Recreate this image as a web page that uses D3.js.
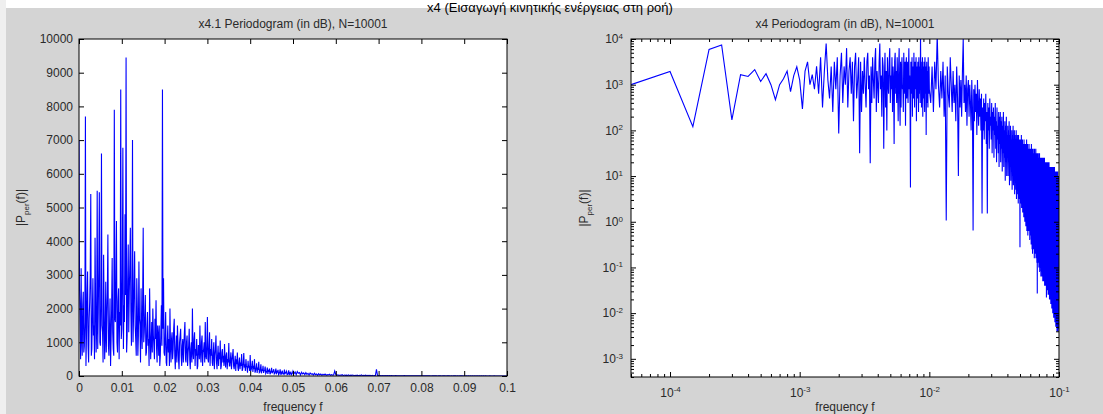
<!DOCTYPE html>
<html>
<head>
<meta charset="utf-8">
<script src="https://cdn.jsdelivr.net/npm/d3@7"></script>
<style>
  body { margin: 0; background: #fff; }
  svg { display: block; font-family: "Liberation Sans", Arial, sans-serif; }
</style>
</head>
<body>
<div id="chart"></div>
<script>
// ---- data ----
const pageTitle = 'x4 (Εισαγωγή κινητικής ενέργειας στη ροή)';
const leftTitle = 'x4.1 Periodogram (in dB), N=10001';
const rightTitle = 'x4 Periodogram (in dB), N=10001';
const xLabelText = 'frequency f';

// left panel: |P| on a linear scale
// 0 .. 0.05 sampled every leftLowStep
const leftLowStep = 0.000125;
const leftLowPower = [
  7000, 2600, 1800, 500, 3200, 1100, 600, 2100, 2500, 700, 900, 1600, 7700, 300, 1200, 2400, 3100, 900, 400, 1700,
  2200, 3000, 5400, 600, 800, 1900, 2900, 1200, 1500, 500, 4100, 2200, 700, 1400, 5500, 800, 1900, 3300, 5450, 1000,
  900, 2100, 6600, 1500, 1300, 400, 3600, 1800, 500, 1200, 2800, 700, 1700, 2500, 4200, 900, 600, 1400, 2300, 300,
  1100, 2000, 3500, 1300, 800, 600, 7900, 1700, 1600, 2900, 4600, 1000, 700, 2200, 2600, 500, 1900, 1500, 8500, 1100,
  1400, 3000, 6770, 800, 2100, 1600, 4800, 2400, 9450, 700, 1200, 2800, 3900, 1300, 2500, 3300, 4400, 1900, 900, 2200,
  7000, 1000, 1800, 2700, 3700, 1500, 1100, 600, 2900, 2000, 600, 1200, 3400, 1700, 1500, 400, 2600, 1400, 800, 2300,
  4400, 1000, 1300, 1800, 2400, 600, 700, 1400, 1900, 900, 1100, 300, 2600, 1300, 500, 1000, 1600, 700, 2000, 1200,
  900, 500, 1700, 1100, 2250, 800, 400, 1500, 1200, 600, 1500, 300, 600, 1300, 2100, 900, 8500, 1400, 2900, 700,
  600, 1200, 1900, 400, 300, 1000, 1500, 700, 1100, 300, 2000, 900, 400, 1100, 1300, 500, 800, 1400, 1700, 600,
  200, 800, 1200, 400, 1500, 1000, 500, 200, 1000, 1200, 1400, 600, 300, 900, 1100, 400, 900, 1300, 1600, 500,
  400, 1000, 1200, 300, 700, 900, 1400, 500, 200, 800, 1000, 400, 2000, 700, 500, 1100, 1300, 300, 800, 600,
  1100, 200, 300, 900, 900, 500, 1500, 700, 400, 1000, 1200, 300, 700, 800, 1000, 400, 1600, 600, 500, 900,
  1750, 500, 400, 900, 1300, 300, 800, 600, 1100, 400, 300, 700, 1000, 200, 600, 800, 1200, 400, 200, 600,
  900, 300, 700, 500, 1050, 200, 300, 700, 800, 400, 600, 300, 950, 500, 250, 600, 700, 200, 500, 400,
  980, 300, 300, 500, 700, 200, 450, 600, 800, 300, 200, 400, 600, 150, 500, 350, 700, 250, 150, 400,
  550, 200, 400, 300, 650, 150, 200, 400, 680, 250, 350, 150, 500, 300, 250, 100, 450, 250, 300, 150,
  620, 150, 200, 300, 450, 120, 300, 200, 500, 100, 150, 250, 380, 90, 250, 180, 420, 100, 120, 200,
  350, 80, 200, 150, 300, 90, 150, 180, 280, 70, 100, 150, 250, 60, 180, 120, 220, 50, 90, 140,
  240, 80, 120, 150, 200, 60, 80, 130, 220, 50, 150, 100, 180, 40, 60, 120, 200, 70, 100, 40,
  160, 90, 70, 50, 190, 60, 110, 100, 140, 40, 50, 80, 170, 30, 90, 70, 130, 40, 60, 90
];
// 0.05 .. 0.1 sampled every leftTailStep
const leftTailStart = 0.05;
const leftTailStep = 0.00025;
const leftTailPower = [
  150, 70, 120, 40, 130, 80, 100, 30, 110, 60, 90, 40, 100, 50, 80, 30, 90, 50, 70, 30,
  80, 40, 60, 20, 70, 30, 60, 20, 50, 30, 60, 20, 40, 30, 50, 20, 40, 25, 30, 150,
  40, 20, 35, 15, 30, 20, 40, 10, 30, 20, 25, 15, 30, 10, 25, 20, 30, 10, 20, 15,
  25, 10, 20, 15, 30, 10, 20, 12, 25, 8, 20, 15, 20, 10, 18, 8, 15, 10, 200, 12,
  15, 8, 12, 6, 14, 9, 10, 5, 12, 7, 10, 6, 11, 5, 9, 7, 10, 4, 8, 6,
  9, 5, 8, 4, 10, 6, 7, 3, 8, 5, 7, 4, 9, 5, 6, 3, 7, 4, 6, 3,
  7, 4, 6, 3, 8, 4, 5, 3, 6, 2, 5, 4, 6, 3, 5, 2, 6, 3, 4, 2,
  5, 3, 4, 2, 6, 3, 4, 2, 5, 2, 4, 3, 5, 2, 4, 2, 4, 3, 3, 2,
  4, 2, 3, 2, 5, 2, 3, 1, 4, 2, 3, 2, 4, 1, 3, 2, 3, 1, 3, 2,
  3, 1, 2, 1, 3, 2, 2, 1, 3, 1, 2, 1, 2, 1, 2, 1, 2, 1, 2, 1,
  1
];
const leftXTicks = [0, 0.01, 0.02, 0.03, 0.04, 0.05, 0.06, 0.07, 0.08, 0.09, 0.1];
const leftYTicks = [0, 1000, 2000, 3000, 4000, 5000, 6000, 7000, 8000, 9000, 10000];

// right panel: log10 of |P|, low band every 5e-5, high band every 2.5e-4 from 0.01
const rightLowStep = 5e-5;
const rightLowLog = [
  3.0, 3.29, 2.08, 3.77, 3.87, 2.23, 3.22, 3.18, 3.33, 3.07, 3.24, 3.0, 2.67, 3.0, 3.13, 3.3, 2.85, 3.2, 3.39, 3.1,
  2.47, 3.3, 3.5, 3.0, 3.22, 2.9, 3.4, 2.8, 3.6, 2.5, 3.3, 3.9, 3.1, 2.7, 3.4, 2.4, 3.5, 2.9, 3.6, 1.93,
  3.2, 3.7, 2.6, 3.4, 3.0, 3.8, 2.5, 3.3, 3.6, 2.8, 3.5, 2.2, 3.4, 3.7, 2.7, 3.1, 3.6, 1.5, 3.5, 2.4,
  3.3, 2.8, 3.6, 3.0, 2.5, 3.5, 3.7, 2.9, 3.2, 1.28, 3.4, 2.6, 3.6, 3.1, 2.7, 3.5, 3.8, 2.4, 3.3, 3.0,
  2.6, 3.5, 3.9, 2.9, 3.2, 2.3, 3.6, 3.4, 1.6, 3.1, 3.7, 2.5, 3.3, 2.0, 3.6, 3.0, 2.8, 3.5, 3.8, 2.6,
  3.2, 2.9, 3.6, 2.4, 3.4, 3.1, 1.7, 3.5, 3.7, 2.8, 3.3, 2.6, 3.6, 3.0, 2.2, 3.4, 3.8, 2.7, 2.1, 3.5,
  2.5, 3.3, 3.6, 2.9, 3.0, 2.4, 3.7, 3.2, 2.8, 3.5, 2.1, 3.4, 3.6, 2.7, 3.1, 3.5, 2.6, 3.3, 3.8, 2.9,
  3.2, 2.6, 0.75, 3.5, 3.0, 2.8, 3.6, 2.3, 3.4, 3.1, 2.7, 3.7, 3.0, 2.5, 3.5, 3.3, 2.9, 3.6, 2.2, 3.4,
  3.0, 2.7, 3.5, 3.2, 2.4, 3.6, 3.1, 2.8, 3.4, 2.6, 4.1, 3.0, 3.5, 2.5, 3.3, 2.9, 3.6, 2.3, 3.2, 3.4,
  2.7, 3.5, 3.0, 2.4, 3.6, 3.2, 2.8, 3.4, 1.9, 3.1, 3.5, 2.6, 3.3, 3.0, 2.5, 3.6, 3.1, 2.8, 3.4, 2.9
];
const rightHighStart = 0.01;
const rightHighStep = 2.5e-4;
const rightHighLog = [
  2.6, 3.4, 2.4, 3.5, 2.9, 4.1, 3.0, 2.5, 3.3, 2.7, 3.5, 2.3, 3.2, 0.03, 3.4, 2.8, 2.5, 3.6, 3.0, 2.4,
  3.3, 2.6, 3.0, 2.2, 3.4, 2.7, 1.0, 3.2, 2.5, 3.1, 2.3, 3.3, 4.0, 2.6, 3.0, 2.4, 3.2, 2.1, 2.9, 3.1,
  2.3, 3.0, 2.6, 2.0, 3.1, 2.5, -0.19, 2.9, 2.2, 3.0, 2.4, 2.8, 1.9, 3.1, 2.5, 2.1, 2.9, 2.3, 2.7, 2.0,
  2.8, 0.18, 2.5, 2.0, 2.7, 1.8, 2.6, 2.2, 2.8, 1.7, 2.4, 0.18, 2.6, 2.0, 2.5, 1.6, 2.7, 2.1, 2.3, 1.8,
  2.6, 1.5, 2.4, 2.0, 2.5, 1.4, 2.3, 1.9, 2.6, 1.6, 2.2, 1.3, 2.5, 1.8, 2.1, 1.5, 2.4, 1.2, 2.3, 1.7,
  2.4, 1.3, 2.2, 1.6, 2.3, 1.1, 2.1, 1.5, 2.4, 1.2, 2.0, 1.4, 2.2, 0.9, 2.1, 1.3, 2.3, 1.0, 1.9, 1.4,
  2.1, 1.0, 2.0, 1.3, 2.2, 0.8, 1.9, 1.2, 2.1, 0.9, 1.8, 1.1, 2.0, 0.7, 1.9, 1.0, 2.1, 0.8, 1.8, 1.1,
  2.0, 0.6, 1.9, 0.9, 1.8, 0.7, 2.0, 0.5, 1.7, 0.8, 1.9, 0.6, 1.8, 0.4, 1.9, 0.7, 1.7, 0.5, 1.8, -0.56,
  1.8, 0.4, 1.7, 0.6, 1.9, 0.3, 1.6, 0.5, 1.8, 0.2, 1.7, 0.4, 1.6, 0.1, 1.8, 0.3, 1.7, 0.0, 1.6, 0.2,
  1.7, -0.1, 1.6, 0.2, 1.8, -0.2, 1.5, 0.1, 1.7, -0.3, 1.6, 0.0, 1.5, -0.2, 1.7, -0.1, 1.6, -0.4, 1.5, -0.2,
  1.6, -0.3, 1.5, -0.5, 1.7, -0.2, 1.4, -0.6, 1.6, -0.7, 1.5, -0.4, 1.6, -0.6, 1.4, -0.5, 1.5, -0.8, 1.6, -0.6,
  1.5, -0.7, 1.4, -0.5, 1.6, -0.8, 1.4, -0.6, 1.5, -0.9, 1.4, -1.57, 1.5, -0.7, 1.3, -0.9, 1.5, -0.8, 1.4, -1.0,
  1.4, -0.9, 1.5, -1.1, 1.3, -0.8, 1.4, -1.0, 1.3, -1.2, 1.4, -0.9, 1.3, -1.1, 1.4, -1.2, 1.3, -1.0, 1.4, -1.3,
  1.3, -1.1, 1.4, -1.2, 1.2, -1.3, 1.3, -1.1, 1.4, -1.4, 1.2, -1.2, 1.3, -1.3, 1.2, -1.4, 1.3, -1.2, 1.2, -1.66,
  1.3, -1.4, 1.2, -1.3, 1.3, -1.5, 1.2, -1.4, 1.3, -1.6, 1.1, -1.5, 1.2, -1.6, 1.3, -1.5, 1.2, -1.7, 1.1, -1.6,
  1.2, -1.7, 1.1, -1.6, 1.2, -1.8, 1.1, -1.7, 1.2, -1.8, 1.1, -1.9, 1.2, -1.8, 1.0, -1.9, 1.1, -2.0, 1.2, -1.9,
  1.1, -2.0, 1.2, -2.1, 1.0, -1.9, 1.1, -2.1, 1.2, -2.0, 1.0, -2.2, 1.1, -2.1, 1.0, -2.2, 1.1, -2.3, 1.0, -2.2,
  1.1, -2.3, 1.0, -2.2, 1.1, -2.4, 0.9, -2.3, 1.0, -2.4, 1.1, -2.3, 0.9, -2.4, 1.0, -2.35, 0.9, -2.3, 1.0, -2.34
];
const rightXDomain = [5e-5, 0.1];
const rightYDomain = [4e-4, 1e4];

// ---- layout ----
const W = 1103, H = 414;
const bg = '#d4d4d4';
const lineColor = '#0000ff';
const textColor = '#2a2a2a';
const leftBox = { x0: 79, x1: 507, y0: 39, y1: 376 };
const rightBox = { x0: 631, x1: 1059, y0: 39, y1: 377 };

const svg = d3.select('#chart').append('svg')
  .attr('width', W).attr('height', H);

svg.append('rect').attr('width', W).attr('height', H).attr('fill', bg);
svg.append('rect').attr('width', W).attr('height', 8).attr('fill', '#fff');
svg.append('rect').attr('width', 6).attr('height', H).attr('fill', '#efefef');

svg.append('text')
  .attr('x', 550).attr('y', 12)
  .attr('text-anchor', 'middle')
  .attr('font-size', 13)
  .attr('fill', '#000')
  .text(pageTitle);

const defs = svg.append('defs');

function plotArea(box, id) {
  svg.append('rect')
    .attr('x', box.x0).attr('y', box.y0)
    .attr('width', box.x1 - box.x0).attr('height', box.y1 - box.y0)
    .attr('fill', '#fff');
  defs.append('clipPath').attr('id', id)
    .append('rect')
    .attr('x', box.x0).attr('y', box.y0)
    .attr('width', box.x1 - box.x0).attr('height', box.y1 - box.y0);
}

function styleAxis(g) {
  g.select('.domain').remove();
  g.selectAll('.tick line').attr('stroke', '#000');
  g.selectAll('.tick text').attr('fill', textColor).attr('font-size', 12)
    .attr('font-family', '"Liberation Sans", Arial, sans-serif');
}

function labels(box, title, ylabX) {
  const cx = (box.x0 + box.x1) / 2;
  svg.append('text')
    .attr('x', cx).attr('y', 28)
    .attr('text-anchor', 'middle')
    .attr('font-size', 12).attr('fill', textColor)
    .text(title);
  svg.append('text')
    .attr('x', cx).attr('y', 411)
    .attr('text-anchor', 'middle')
    .attr('font-size', 12).attr('fill', textColor)
    .text(xLabelText);
  const yl = svg.append('text')
    .attr('transform', `translate(${ylabX},${(box.y0 + box.y1) / 2}) rotate(-90)`)
    .attr('text-anchor', 'middle')
    .attr('font-size', 12).attr('fill', textColor);
  yl.append('tspan').text('|P');
  yl.append('tspan').attr('font-size', 8).attr('dy', 4).text('per');
  yl.append('tspan').attr('dy', -4).text('(f)|');
}

function frame(box) {
  svg.append('rect')
    .attr('x', box.x0).attr('y', box.y0)
    .attr('width', box.x1 - box.x0).attr('height', box.y1 - box.y0)
    .attr('fill', 'none').attr('stroke', '#000').attr('stroke-width', 1);
}

// ---- left panel ----
const xL = d3.scaleLinear().domain([0, 0.1]).range([leftBox.x0, leftBox.x1]);
const yL = d3.scaleLinear().domain([0, 10000]).range([leftBox.y1, leftBox.y0]);
plotArea(leftBox, 'clipL');

const leftData = leftLowPower.map((p, i) => ({ f: i * leftLowStep, p }))
  .concat(leftTailPower.map((p, i) => ({ f: leftTailStart + i * leftTailStep, p })));
svg.append('path')
  .datum(leftData)
  .attr('clip-path', 'url(#clipL)')
  .attr('fill', 'none')
  .attr('stroke', lineColor)
  .attr('stroke-width', 1.1)
  .attr('d', d3.line().x(d => xL(d.f)).y(d => yL(d.p)));

svg.append('g').attr('transform', `translate(0,${leftBox.y1})`)
  .call(d3.axisBottom(xL).tickValues(leftXTicks).tickSize(-5).tickSizeOuter(0).tickPadding(7)
    .tickFormat(d3.format('~g')))
  .call(styleAxis);
svg.append('g').attr('transform', `translate(0,${leftBox.y0})`)
  .call(d3.axisTop(xL).tickValues(leftXTicks).tickSize(-5).tickSizeOuter(0).tickFormat(''))
  .call(styleAxis);
svg.append('g').attr('transform', `translate(${leftBox.x0},0)`)
  .call(d3.axisLeft(yL).tickValues(leftYTicks).tickSize(-5).tickSizeOuter(0).tickPadding(6)
    .tickFormat(d3.format('d')))
  .call(styleAxis);
svg.append('g').attr('transform', `translate(${leftBox.x1},0)`)
  .call(d3.axisRight(yL).tickValues(leftYTicks).tickSize(-5).tickSizeOuter(0).tickFormat(''))
  .call(styleAxis);
frame(leftBox);
labels(leftBox, leftTitle, 25);

// ---- right panel ----
const xR = d3.scaleLog().domain(rightXDomain).range([rightBox.x0, rightBox.x1]);
const yR = d3.scaleLog().domain(rightYDomain).range([rightBox.y1, rightBox.y0]);
plotArea(rightBox, 'clipR');

const rightData = rightLowLog.map((v, i) => ({ f: (i + 1) * rightLowStep, p: Math.pow(10, v) }))
  .concat(rightHighLog.map((v, j) => ({ f: rightHighStart + (j + 1) * rightHighStep, p: Math.pow(10, v) })));
svg.append('path')
  .datum(rightData)
  .attr('clip-path', 'url(#clipR)')
  .attr('fill', 'none')
  .attr('stroke', lineColor)
  .attr('stroke-width', 1.1)
  .attr('d', d3.line().x(d => xR(d.f)).y(d => yR(d.p)));

const isDecade = d => Math.abs(Math.log10(d) - Math.round(Math.log10(d))) < 1e-6;
const xMajor = xR.ticks().filter(isDecade);
const xMinor = xR.ticks().filter(d => !isDecade(d));
const yMajor = yR.ticks().filter(isDecade);
const yMinor = yR.ticks().filter(d => !isDecade(d));

function powLabel(sel) {
  sel.selectAll('.tick text').each(function (d) {
    const t = d3.select(this).text('');
    t.append('tspan').text('10');
    t.append('tspan').attr('font-size', 8).attr('dy', '-0.55em').text(Math.round(Math.log10(d)));
  });
}

// minor and major ticks on all four sides
[['axisBottom', rightBox.y1], ['axisTop', rightBox.y0]].forEach(([fn, pos]) => {
  svg.append('g').attr('transform', `translate(0,${pos})`)
    .call(d3[fn](xR).tickValues(xMinor).tickSize(-3).tickSizeOuter(0).tickFormat(''))
    .call(styleAxis);
  svg.append('g').attr('transform', `translate(0,${pos})`)
    .call(d3[fn](xR).tickValues(xMajor).tickSize(-5).tickSizeOuter(0).tickFormat(''))
    .call(styleAxis);
});
[['axisLeft', rightBox.x0], ['axisRight', rightBox.x1]].forEach(([fn, pos]) => {
  svg.append('g').attr('transform', `translate(${pos},0)`)
    .call(d3[fn](yR).tickValues(yMinor).tickSize(-3).tickSizeOuter(0).tickFormat(''))
    .call(styleAxis);
  svg.append('g').attr('transform', `translate(${pos},0)`)
    .call(d3[fn](yR).tickValues(yMajor).tickSize(-5).tickSizeOuter(0).tickFormat(''))
    .call(styleAxis);
});

// labelled major ticks
svg.append('g').attr('transform', `translate(0,${rightBox.y1})`)
  .call(d3.axisBottom(xR).tickValues(xMajor).tickSize(0).tickSizeOuter(0).tickPadding(11).tickFormat(d => d))
  .call(styleAxis)
  .call(powLabel);
svg.append('g').attr('transform', `translate(${rightBox.x0},0)`)
  .call(d3.axisLeft(yR).tickValues(yMajor).tickSize(0).tickSizeOuter(0).tickPadding(8).tickFormat(d => d))
  .call(styleAxis)
  .call(powLabel);

frame(rightBox);
labels(rightBox, rightTitle, 588);
</script>
</body>
</html>
